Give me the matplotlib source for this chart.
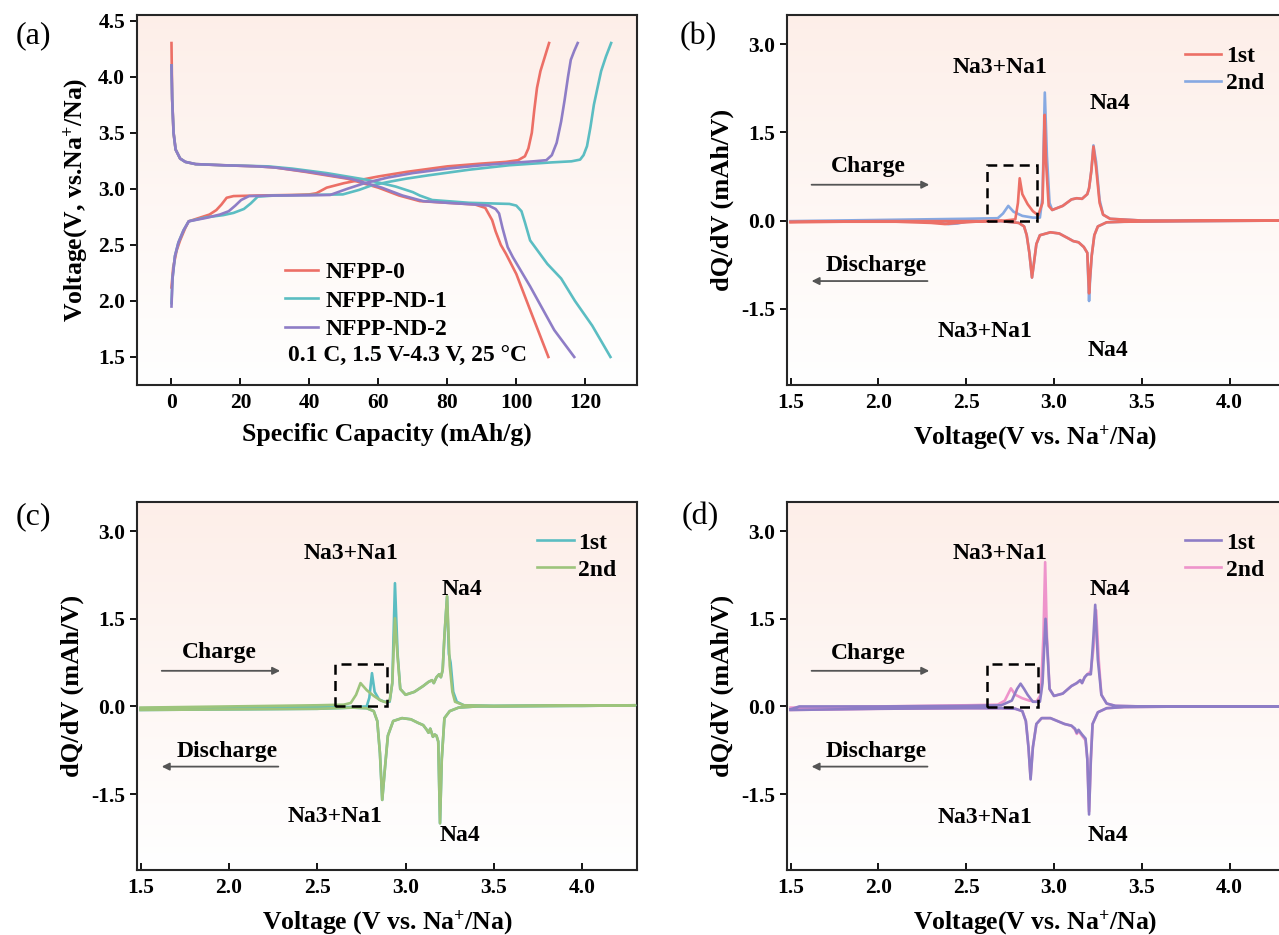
import numpy as np
import matplotlib
matplotlib.use('Agg')
import matplotlib.pyplot as plt
from matplotlib.patches import Rectangle

# Шрифт как в статье (Times, жирный)
plt.rcParams['font.family'] = ['Liberation Serif', 'DejaVu Serif']
plt.rcParams['font.weight'] = 'bold'
plt.rcParams['axes.labelweight'] = 'bold'
plt.rcParams['axes.unicode_minus'] = False
plt.rcParams['mathtext.fontset'] = 'custom'
plt.rcParams['mathtext.rm'] = 'Liberation Serif:bold'
plt.rcParams['mathtext.bf'] = 'Liberation Serif:bold'
plt.rcParams['mathtext.it'] = 'Liberation Serif:bold:italic'

# ---------- (a) зарядно-разрядные кривые ----------
samples = ['NFPP-0', 'NFPP-ND-1', 'NFPP-ND-2']

cap0_c = [0, 0.5, 1.5, 2.5, 4, 5, 8, 11, 13, 14.5, 16, 18, 25, 35, 40, 42, 45, 50, 55, 60, 68, 80, 90, 97,
          100.5, 102.5, 103.5, 104.5, 105.2, 106, 107, 108.3, 109.5]
v0_c = [2.12, 2.3, 2.45, 2.54, 2.65, 2.71, 2.74, 2.77, 2.81, 2.86, 2.92, 2.935, 2.94, 2.945, 2.95, 2.96, 3.01,
        3.05, 3.08, 3.11, 3.15, 3.20, 3.225, 3.24, 3.255, 3.29, 3.36, 3.5, 3.7, 3.9, 4.05, 4.18, 4.3]
cap0_d = [0, 0.2, 0.6, 1.2, 2.5, 4, 7, 15, 25, 30, 39, 51, 60, 66, 72, 80, 88, 91, 93, 94, 95.5, 97, 100, 104, 109.3]
v0_d = [4.3, 3.8, 3.5, 3.35, 3.27, 3.24, 3.22, 3.21, 3.20, 3.19, 3.15, 3.09, 3.01, 2.94, 2.89, 2.875, 2.86, 2.83,
        2.72, 2.62, 2.5, 2.42, 2.24, 1.92, 1.5]

cap1_c = [0, 0.3, 1, 2, 3.5, 5, 10, 15, 18, 21, 23, 25, 30, 40, 49.7, 54.4, 58, 62.7, 68, 74.5, 86.3, 98, 110,
          116, 118.5, 119.5, 120.5, 121.5, 122.5, 123.4, 124.6, 126, 127.5]
v1_c = [1.98, 2.2, 2.4, 2.52, 2.63, 2.71, 2.745, 2.765, 2.785, 2.82, 2.87, 2.93, 2.94, 2.945, 2.95, 2.99, 3.03,
        3.06, 3.09, 3.12, 3.17, 3.21, 3.235, 3.245, 3.26, 3.3, 3.38, 3.55, 3.75, 3.88, 4.05, 4.18, 4.3]
cap1_d = [0, 0.2, 0.6, 1.2, 2.5, 4, 7, 15, 28, 35, 45, 56.7, 65, 70, 72, 75.6, 86.3, 98, 100, 101.5, 102.5, 104,
          109, 113, 117, 122, 127.3]
v1_d = [4.1, 3.8, 3.5, 3.35, 3.27, 3.24, 3.22, 3.21, 3.20, 3.18, 3.14, 3.08, 3.02, 2.97, 2.94, 2.90, 2.875, 2.865,
        2.85, 2.80, 2.7, 2.54, 2.33, 2.2, 2.0, 1.78, 1.5]

cap2_c = [0, 0.3, 1, 2, 3.5, 5, 10, 14, 16.6, 18.5, 20.2, 22.5, 30, 40, 46, 51, 56, 62.7, 70, 80, 90, 98, 105,
          108.7, 110.3, 111.7, 113, 114, 115, 115.8, 116.8, 117.8]
v2_c = [1.95, 2.2, 2.4, 2.52, 2.63, 2.71, 2.74, 2.77, 2.80, 2.85, 2.9, 2.935, 2.94, 2.942, 2.945, 3.0, 3.05, 3.10,
        3.14, 3.18, 3.21, 3.23, 3.245, 3.255, 3.3, 3.41, 3.6, 3.79, 4.0, 4.15, 4.23, 4.3]
cap2_d = [0, 0.2, 0.6, 1.2, 2.5, 4, 7, 15, 25, 30, 40, 52, 61, 67, 73, 80, 88, 92, 94, 95, 96, 97.5, 99, 104,
          111, 116.8]
v2_d = [4.1, 3.8, 3.5, 3.35, 3.27, 3.24, 3.22, 3.21, 3.20, 3.19, 3.15, 3.09, 3.01, 2.94, 2.89, 2.875, 2.86, 2.85,
        2.82, 2.78, 2.65, 2.48, 2.39, 2.13, 1.74, 1.5]

# ---------- (b) dQ/dV NFPP-0 ----------
b1_cv = [1.50, 1.80, 2.10, 2.30, 2.38, 2.45, 2.60, 2.72, 2.78, 2.795, 2.805, 2.82, 2.85, 2.88, 2.91, 2.935,
         2.947, 2.955, 2.97, 2.99, 3.05, 3.10, 3.13, 3.16, 3.19, 3.20, 3.213, 3.225, 3.24, 3.26, 3.28, 3.32, 3.50,
         4.00, 4.30]
b1_cq = [-0.03, -0.02, -0.02, -0.04, -0.06, -0.04, -0.01, 0.00, 0.02, 0.30, 0.72, 0.45, 0.28, 0.16, 0.09, 0.30,
         1.80, 1.00, 0.25, 0.18, 0.25, 0.36, 0.38, 0.37, 0.45, 0.55, 0.85, 1.26, 0.90, 0.30, 0.10, 0.03, 0.00,
         0.00, 0.00]
b1_dv = [4.30, 3.80, 3.40, 3.30, 3.25, 3.23, 3.215, 3.205, 3.200, 3.19, 3.17, 3.14, 3.11, 3.08, 3.03, 2.98,
         2.92, 2.90, 2.885, 2.875, 2.86, 2.845, 2.83, 2.80, 2.70, 2.50, 2.00, 1.50]
b1_dq = [0.00, -0.01, -0.02, -0.03, -0.10, -0.25, -0.60, -1.00, -1.24, -0.55, -0.45, -0.37, -0.35, -0.30, -0.22,
         -0.20, -0.25, -0.40, -0.75, -0.97, -0.55, -0.25, -0.10, -0.04, -0.01, -0.01, -0.01, -0.02]
b2_cv = [1.50, 2.00, 2.50, 2.68, 2.71, 2.74, 2.77, 2.82, 2.88, 2.92, 2.935, 2.948, 2.96, 2.975, 2.99, 3.05, 3.10,
         3.13, 3.16, 3.19, 3.20, 3.213, 3.225, 3.24, 3.26, 3.28, 3.32, 3.50, 4.30]
b2_cq = [-0.01, 0.01, 0.03, 0.04, 0.12, 0.25, 0.15, 0.08, 0.05, 0.05, 0.40, 2.18, 1.10, 0.30, 0.18, 0.25, 0.36,
         0.38, 0.37, 0.45, 0.55, 0.85, 1.28, 1.00, 0.35, 0.10, 0.03, 0.00, 0.00]
b2_dv = [4.30, 3.80, 3.40, 3.30, 3.25, 3.23, 3.215, 3.205, 3.200, 3.19, 3.17, 3.14, 3.11, 3.08, 3.03, 2.98,
         2.92, 2.90, 2.885, 2.875, 2.86, 2.845, 2.83, 2.80, 2.70, 2.50, 2.45, 2.40, 2.35, 2.30, 2.00, 1.50]
b2_dq = [0.00, -0.01, -0.02, -0.03, -0.10, -0.25, -0.60, -1.05, -1.37, -0.55, -0.45, -0.37, -0.35, -0.30, -0.22,
         -0.20, -0.25, -0.40, -0.75, -0.97, -0.55, -0.25, -0.10, -0.04, -0.01, -0.02, -0.05, -0.06, -0.04, -0.02,
         -0.01, -0.02]

# ---------- (c) dQ/dV NFPP-ND-1 ----------
c1_cv = [1.50, 2.00, 2.50, 2.70, 2.78, 2.795, 2.81, 2.825, 2.85, 2.88, 2.91, 2.925, 2.94, 2.955, 2.97, 3.00,
         3.05, 3.10, 3.13, 3.15, 3.16, 3.175, 3.19, 3.20, 3.21, 3.22, 3.235, 3.245, 3.255, 3.27, 3.29, 3.33, 3.50,
         4.00, 4.30]
c1_cq = [-0.03, -0.02, -0.01, -0.01, 0.00, 0.15, 0.57, 0.25, 0.12, 0.08, 0.08, 0.40, 2.11, 0.90, 0.30, 0.20,
         0.25, 0.35, 0.42, 0.45, 0.40, 0.50, 0.55, 0.50, 0.62, 1.20, 1.88, 0.90, 0.75, 0.25, 0.08, 0.02, 0.01,
         0.01, 0.02]
c2_cv = [1.50, 2.00, 2.50, 2.65, 2.69, 2.72, 2.745, 2.78, 2.82, 2.86, 2.89, 2.91, 2.925, 2.94, 2.955, 2.97,
         3.00, 3.05, 3.10, 3.13, 3.15, 3.16, 3.175, 3.19, 3.20, 3.21, 3.22, 3.235, 3.25, 3.265, 3.28, 3.33, 3.50,
         4.00, 4.30]
c2_cq = [-0.02, 0.00, 0.02, 0.03, 0.06, 0.20, 0.40, 0.28, 0.18, 0.10, 0.07, 0.10, 0.40, 1.51, 0.85, 0.30, 0.20,
         0.25, 0.35, 0.42, 0.45, 0.40, 0.50, 0.55, 0.50, 0.62, 1.20, 1.89, 0.70, 0.25, 0.08, 0.02, 0.01, 0.01,
         0.02]
c_dv = [4.30, 3.80, 3.40, 3.30, 3.25, 3.22, 3.205, 3.195, 3.185, 3.175, 3.165, 3.155, 3.14, 3.13, 3.12, 3.10,
        3.07, 3.03, 2.98, 2.93, 2.90, 2.885, 2.868, 2.855, 2.84, 2.82, 2.78, 2.70, 2.50, 2.00, 1.50]
c_dq = [0.02, 0.01, 0.00, -0.02, -0.08, -0.20, -0.90, -2.00, -0.60, -0.50, -0.48, -0.52, -0.38, -0.45, -0.40,
        -0.32, -0.28, -0.22, -0.20, -0.25, -0.50, -1.00, -1.60, -0.80, -0.25, -0.08, -0.03, -0.02, -0.04, -0.05,
        -0.06]

# ---------- (d) dQ/dV NFPP-ND-2 ----------
d1_cv = [1.50, 1.55, 2.00, 2.50, 2.70, 2.76, 2.79, 2.81, 2.83, 2.85, 2.88, 2.92, 2.935, 2.952, 2.962, 2.975,
         3.00, 3.05, 3.10, 3.13, 3.15, 3.16, 3.175, 3.19, 3.21, 3.225, 3.235, 3.25, 3.27, 3.30, 3.35, 3.50, 4.30]
d1_cq = [-0.05, 0.00, 0.00, 0.01, 0.02, 0.10, 0.30, 0.39, 0.30, 0.20, 0.08, 0.08, 0.40, 1.50, 1.00, 0.30, 0.18,
         0.22, 0.35, 0.40, 0.45, 0.40, 0.50, 0.55, 0.55, 1.20, 1.74, 0.80, 0.20, 0.05, 0.01, 0.00, 0.00]
d2_cv = [1.50, 2.00, 2.50, 2.68, 2.72, 2.755, 2.78, 2.82, 2.86, 2.90, 2.925, 2.94, 2.95, 2.96, 2.975, 3.00, 3.05,
         3.10, 3.13, 3.15, 3.16, 3.175, 3.19, 3.21, 3.225, 3.24, 3.255, 3.27, 3.30, 3.35, 3.50, 4.30]
d2_cq = [-0.02, 0.00, 0.02, 0.03, 0.10, 0.31, 0.20, 0.14, 0.10, 0.08, 0.20, 1.20, 2.47, 1.20, 0.30, 0.18, 0.22,
         0.35, 0.40, 0.45, 0.40, 0.50, 0.55, 0.60, 1.00, 1.65, 0.80, 0.20, 0.05, 0.01, 0.00, 0.00]
d_dv = [4.30, 3.80, 3.40, 3.30, 3.25, 3.22, 3.21, 3.20, 3.19, 3.18, 3.16, 3.14, 3.13, 3.12, 3.10, 3.06, 3.02,
        2.98, 2.93, 2.90, 2.88, 2.867, 2.855, 2.84, 2.82, 2.78, 2.70, 2.50, 2.00, 1.50]
d1_dq = [0.00, 0.00, -0.01, -0.03, -0.10, -0.30, -0.90, -1.85, -0.90, -0.55, -0.48, -0.40, -0.45, -0.38, -0.33,
         -0.30, -0.25, -0.20, -0.20, -0.30, -0.70, -1.25, -0.70, -0.25, -0.08, -0.04, -0.03, -0.03, -0.04, -0.06]
d2_dq = [0.00, 0.00, -0.01, -0.03, -0.10, -0.30, -0.95, -1.80, -0.90, -0.58, -0.50, -0.42, -0.47, -0.40, -0.33,
         -0.30, -0.25, -0.20, -0.20, -0.30, -0.70, -1.22, -0.70, -0.25, -0.08, -0.04, -0.03, -0.03, -0.04, -0.06]

cycles = ['1st', '2nd']

# цвета
RED = '#ec6f66'
TEAL = '#5bbdc2'
PURPLE = '#8e7dc6'
BLUE = '#86a9e2'
GREEN = '#9dc47c'
PINK = '#ee94cb'

TICK_FS = 15.5
LAB_FS = 18.5
TXT_FS = 17
LW = 1.9

W, H = 1279, 935
fig = plt.figure(figsize=(W / 100, H / 100), dpi=100)


def fon(ax):
    # розовый градиент фона сверху вниз
    t = np.linspace(1, 0, 256)[:, None, None]
    top = np.array([0.993, 0.935, 0.912])
    img = 1 - (1 - top) * t
    img = np.repeat(img, 2, axis=1)
    ax.imshow(img, extent=[0, 1, 0, 1], transform=ax.transAxes, aspect='auto', zorder=0,
              interpolation='bilinear')


def style(ax):
    for s in ax.spines.values():
        s.set_linewidth(1.5)
        s.set_color('#262626')
    ax.tick_params(axis='x', direction='in', length=5, width=1.3, labelsize=TICK_FS, pad=6, top=False)
    ax.tick_params(axis='y', direction='out', length=5, width=1.3, labelsize=TICK_FS, right=False)


# ---- (a) ----
ax = fig.add_axes([137 / W, 1 - 385 / H, 500 / W, 370 / H])
fon(ax)
lines = []
for c_x, c_y, d_x, d_y, col, name in [(cap0_c, v0_c, cap0_d, v0_d, RED, samples[0]),
                                       (cap1_c, v1_c, cap1_d, v1_d, TEAL, samples[1]),
                                       (cap2_c, v2_c, cap2_d, v2_d, PURPLE, samples[2])]:
    l, = ax.plot(c_x, c_y, color=col, lw=LW, label=name, zorder=3)
    ax.plot(d_x, d_y, color=col, lw=LW, zorder=3)
    lines.append(l)
ax.set_xlim(-10, 135)
ax.set_ylim(1.25, 4.55)
ax.set_xticks(np.arange(0, 121, 20))
ax.set_yticks(np.arange(1.5, 4.51, 0.5))
ax.yaxis.set_major_formatter(matplotlib.ticker.FormatStrFormatter('%.1f'))
style(ax)
ax.set_xlabel('Specific Capacity (mAh/g)', fontsize=LAB_FS, labelpad=7)
ax.set_ylabel('Voltage(V, vs.Na$^{+}$/Na)', fontsize=LAB_FS, labelpad=6)
ax.legend(handles=lines, loc='upper left', bbox_to_anchor=(0.296, 0.334), frameon=False, fontsize=TXT_FS,
          handlelength=1.4, handletextpad=0.3, labelspacing=0.3, borderaxespad=0, borderpad=0)
ax.text(0.302, 0.076, '0.1 C, 1.5 V-4.3 V, 25 °C', transform=ax.transAxes, fontsize=TXT_FS, va='center')
fig.text(33 / W, 1 - 36 / H, '(a)', fontsize=23, fontweight='normal', ha='center', va='center')


def dq_panel(pos, first, second, top_first, box, na_pos, arr_y, xlabel, tag, tag_xy):
    ax = fig.add_axes(pos)
    fon(ax)
    h = {}
    # порядок отрисовки: кто сверху
    order = [second, first] if top_first else [first, second]
    for cv, cq, dv, dq, col, name in order:
        l, = ax.plot(list(cv) + list(dv), list(cq) + list(dq), color=col, lw=LW, zorder=3)
        h[name] = l
    ax.add_patch(Rectangle((box[0], box[1]), box[2] - box[0], box[3] - box[1], fill=False, ls=(0, (4, 2.5)),
                           lw=1.8, color='black', zorder=4))
    for (x, y), s in zip(na_pos, ['Na3+Na1', 'Na4', 'Na3+Na1', 'Na4']):
        ax.text(x, y, s, ha='center', va='center', fontsize=TXT_FS, zorder=5)
    ax.annotate('', xy=(2.29, arr_y[1]), xytext=(1.62, arr_y[1]),
                arrowprops=dict(arrowstyle='-|>', color='#555555', lw=1.3, mutation_scale=11, shrinkA=0,
                                shrinkB=0))
    ax.text(1.945, arr_y[0], 'Charge', ha='center', va='center', fontsize=TXT_FS)
    ax.annotate('', xy=(1.62, arr_y[3]), xytext=(2.28, arr_y[3]),
                arrowprops=dict(arrowstyle='-|>', color='#555555', lw=1.3, mutation_scale=11, shrinkA=0,
                                shrinkB=0))
    ax.text(1.99, arr_y[2], 'Discharge', ha='center', va='center', fontsize=TXT_FS)
    ax.set_xlim(1.48, 4.31)
    ax.set_ylim(-2.8, 3.5)
    ax.set_xticks([1.5, 2.0, 2.5, 3.0, 3.5, 4.0])
    ax.set_yticks([-1.5, 0.0, 1.5, 3.0])
    ax.xaxis.set_major_formatter(matplotlib.ticker.FormatStrFormatter('%.1f'))
    ax.yaxis.set_major_formatter(matplotlib.ticker.FormatStrFormatter('%.1f'))
    style(ax)
    ax.set_xlabel(xlabel, fontsize=LAB_FS, labelpad=7)
    ax.set_ylabel('dQ/dV (mAh/V)', fontsize=LAB_FS + 0.5, labelpad=5)
    ax.legend(handles=[h[cycles[0]], h[cycles[1]]], labels=cycles, loc='upper left',
              bbox_to_anchor=(0.8, 0.918), frameon=False, fontsize=TXT_FS, handlelength=1.55,
              handletextpad=0.2, labelspacing=0.23, borderaxespad=0, borderpad=0)
    fig.text(tag_xy[0] / W, 1 - tag_xy[1] / H, tag, fontsize=23, fontweight='normal', ha='center', va='center')
    return ax


xl_b = 'Voltage(V vs. Na$^{+}$/Na)'
xl_c = 'Voltage (V vs. Na$^{+}$/Na)'

dq_panel([787 / W, 1 - 385 / H, 497 / W, 370 / H],
         (b1_cv, b1_cq, b1_dv, b1_dq, RED, cycles[0]), (b2_cv, b2_cq, b2_dv, b2_dq, BLUE, cycles[1]),
         True, (2.62, 0.0, 2.905, 0.94),
         [(2.694, 2.60), (3.32, 1.99), (2.605, -1.89), (3.305, -2.21)],
         (0.92, 0.61, -0.76, -1.03), xl_b, '(b)', (698, 37))

dq_panel([137 / W, 1 - 870 / H, 500 / W, 368 / H],
         (c1_cv, c1_cq, c_dv, c_dq, TEAL, cycles[0]), (c2_cv, c2_cq, c_dv, c_dq, GREEN, cycles[1]),
         False, (2.60, 0.0, 2.895, 0.72),
         [(2.69, 2.61), (3.32, 2.0), (2.60, -1.88), (3.31, -2.21)],
         (0.92, 0.61, -0.77, -1.03), xl_c, '(c)', (33, 517))

dq_panel([787 / W, 1 - 870 / H, 497 / W, 368 / H],
         (d1_cv, d1_cq, d_dv, d1_dq, PURPLE, cycles[0]), (d2_cv, d2_cq, d_dv, d2_dq, PINK, cycles[1]),
         True, (2.617, -0.01, 2.91, 0.72),
         [(2.694, 2.62), (3.32, 2.0), (2.605, -1.9), (3.305, -2.21)],
         (0.91, 0.61, -0.77, -1.03), xl_b, '(d)', (700, 517))

fig.savefig('out.png', dpi=100)
